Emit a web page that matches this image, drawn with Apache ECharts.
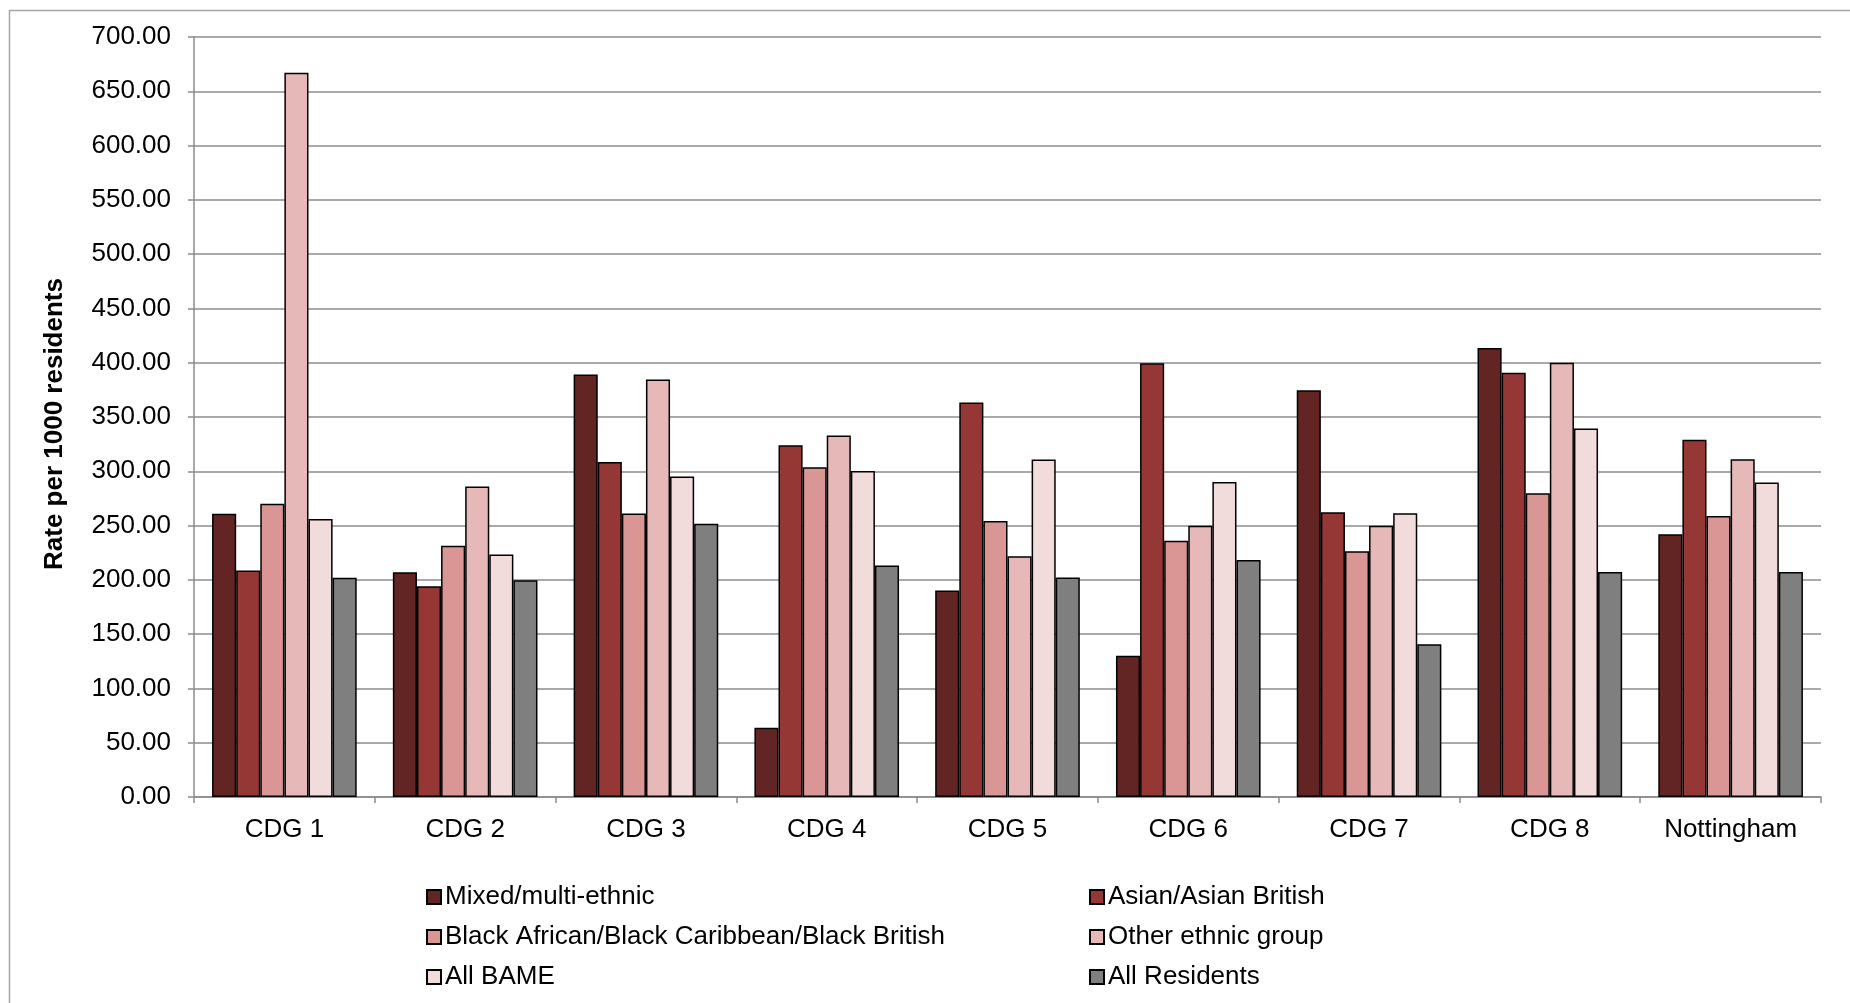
<!DOCTYPE html>
<html>
<head>
<meta charset="utf-8">
<title>Rate per 1000 residents by ethnic group</title>
<script src="https://cdn.jsdelivr.net/npm/echarts@6/dist/echarts.min.js"></script>
<style>
  html, body { margin: 0; padding: 0; background: #ffffff; }
  #chart { width: 1850px; height: 1003px; }
</style>
</head>
<body>
<div id="chart"></div>
<script>
// Areas along the x axis
const categories = ['CDG 1', 'CDG 2', 'CDG 3', 'CDG 4', 'CDG 5', 'CDG 6', 'CDG 7', 'CDG 8', 'Nottingham'];

// Rate per 1000 residents, one array per ethnic group
const mixed      = [260.9, 207.1, 389.2,  63.7, 190.2, 130.2, 374.7, 413.5, 242.0];
const asian      = [208.7, 194.2, 308.6, 324.0, 363.4, 399.4, 262.2, 390.7, 329.0];
const black      = [270.1, 231.4, 261.2, 303.7, 254.2, 236.0, 226.3, 279.7, 258.9];
const other      = [667.1, 286.1, 384.6, 332.9, 221.8, 249.8, 249.9, 399.9, 311.2];
const allBame    = [256.0, 223.4, 295.1, 300.3, 310.8, 290.2, 261.3, 339.4, 289.7];
const allResid   = [201.9, 199.7, 251.7, 213.2, 202.2, 218.2, 140.8, 207.2, 207.3];

const seriesNames = [
  'Mixed/multi-ethnic',
  'Asian/Asian British',
  'Black African/Black Caribbean/Black British',
  'Other ethnic group',
  'All BAME',
  'All Residents'
];
const seriesColors = ['#632523', '#953735', '#D99694', '#E6B9B8', '#F2DCDB', '#7F7F7F'];
const seriesData = [mixed, asian, black, other, allBame, allResid];

const FONT = '"Liberation Sans", Arial, sans-serif';
const GRID_GRAY = '#8c8c8c';

const chart = echarts.init(document.getElementById('chart'), null, { renderer: 'canvas' });

const series = seriesNames.map((name, i) => ({
  name: name,
  type: 'bar',
  data: seriesData[i],
  barGap: '0%',
  barCategoryGap: '20%',
  itemStyle: {
    color: seriesColors[i],
    borderColor: '#000000',
    borderWidth: 1.5
  },
  emphasis: { disabled: true }
}));

const legendCommon = {
  orient: 'vertical',
  icon: 'rect',
  itemWidth: 14,
  itemHeight: 14,
  itemGap: 14,
  padding: 0,
  selectedMode: false,
  textStyle: { fontFamily: FONT, fontSize: 26, color: '#000000', padding: [0, 0, 0, -1] }
};

chart.setOption({
  animation: false,
  backgroundColor: '#ffffff',
  textStyle: { fontFamily: FONT },
  graphic: [{
    type: 'rect',
    silent: true,
    shape: { x: 9.5, y: 10.5, width: 1900, height: 1100 },
    style: { fill: 'none', stroke: '#a6a6a6', lineWidth: 1.5 }
  }],
  grid: { left: 194, top: 37, width: 1627, height: 760, containLabel: false },
  legend: [
    Object.assign({}, legendCommon, {
      left: 426, top: 884,
      data: [seriesNames[0], seriesNames[2], seriesNames[4]]
    }),
    Object.assign({}, legendCommon, {
      left: 1089, top: 884,
      data: [seriesNames[1], seriesNames[3], seriesNames[5]]
    })
  ],
  xAxis: {
    type: 'category',
    data: categories,
    boundaryGap: true,
    axisLine: { show: true, lineStyle: { color: GRID_GRAY, width: 1.5 } },
    axisTick: { show: true, inside: false, length: 6, alignWithLabel: false, lineStyle: { color: GRID_GRAY, width: 1.5 } },
    axisLabel: { margin: 20, fontFamily: FONT, fontSize: 26, color: '#000000' },
    splitLine: { show: false }
  },
  yAxis: {
    type: 'value',
    min: 0,
    max: 700,
    interval: 50,
    name: 'Rate per 1000 residents',
    nameLocation: 'middle',
    nameRotate: 90,
    nameGap: 126,
    nameTextStyle: { fontFamily: FONT, fontSize: 26, fontWeight: 'bold', color: '#000000', padding: [0, 14, 0, 0] },
    axisLine: { show: true, lineStyle: { color: GRID_GRAY, width: 1.5 } },
    axisTick: { show: true, inside: false, length: 6, lineStyle: { color: GRID_GRAY, width: 1.5 } },
    axisLabel: {
      margin: 23,
      fontFamily: FONT,
      fontSize: 26,
      color: '#000000',
      formatter: v => v.toFixed(2)
    },
    splitLine: { show: true, lineStyle: { color: GRID_GRAY, width: 1.5 } }
  },
  series: series
});
</script>
</body>
</html>
